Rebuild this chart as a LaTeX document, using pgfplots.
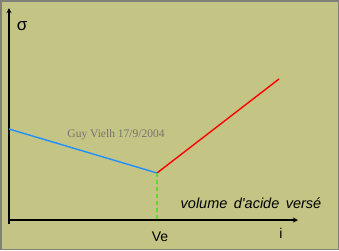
\documentclass[border=0pt]{standalone}
\usepackage{pgfplots}
\pgfplotsset{compat=1.18}
\usepackage{fontspec}
\setmainfont{Liberation Serif}
\newfontfamily\arialf{Liberation Sans}
\definecolor{bg}{RGB}{196,196,132}
\definecolor{frm}{RGB}{128,128,120}
\definecolor{bl}{RGB}{30,144,255}
\definecolor{gr}{RGB}{90,220,40}
\begin{document}
\begin{tikzpicture}
\begin{axis}[
  scale only axis, width=339pt, height=250pt,
  xmin=0, xmax=339, ymin=0, ymax=250,
  hide axis, clip=false,
]
\fill[bg] (axis cs:0,0) rectangle (axis cs:339,250);
\draw[frm, line width=1.5pt] (axis cs:0.75,0.75) rectangle (axis cs:338.25,249.25);
\draw[black, line width=1.3pt, -stealth] (axis cs:9,26) -- (axis cs:9,242);
\draw[black, line width=1.3pt, -stealth] (axis cs:9,30) -- (axis cs:298,30);
\addplot[bl, line width=1.4pt] coordinates {(9,121) (157,77)};
\addplot[red, line width=1.4pt] coordinates {(157,77) (279,171)};
\addplot[gr, line width=1.2pt, dash pattern=on 4pt off 3pt] coordinates {(157,77) (157,31)};
\node[font=\arialf\fontsize{17}{17}\selectfont] at (axis cs:22,224) {σ};
\node[text=gray!90!black, font=\fontsize{11.5}{12}\selectfont] at (axis cs:116,115) {Guy Vielh 17/9/2004};
\node[font=\arialf\itshape\fontsize{14.5}{15}\selectfont] at (axis cs:251,47) {volume\, d'acide\, versé};
\node[font=\arialf\fontsize{14}{14}\selectfont] at (axis cs:160,13) {Ve};
\node[font=\arialf\fontsize{14}{14}\selectfont] at (axis cs:281,17) {i};
\end{axis}
\end{tikzpicture}
\end{document}
